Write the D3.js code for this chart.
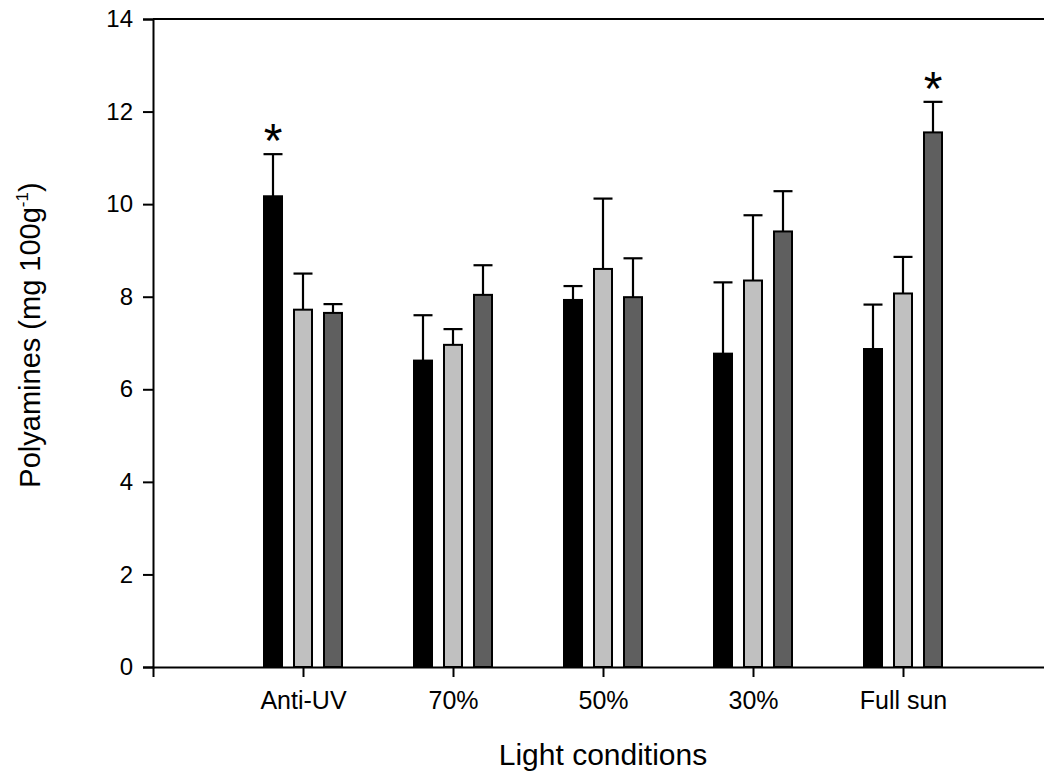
<!DOCTYPE html>
<html>
<head>
<meta charset="utf-8">
<script src="https://cdn.jsdelivr.net/npm/d3@7"></script>
<style>
  html, body { margin: 0; padding: 0; background: #fff; }
  svg { display: block; }
  text { font-family: "Liberation Sans", Arial, sans-serif; fill: #000; }
</style>
</head>
<body>
<svg id="chart" width="1044" height="773"></svg>
<script>
// Light treatments along the x axis
const categories = ["Anti-UV", "70%", "50%", "30%", "Full sun"];
// Three measured series per treatment (black, light grey, dark grey bars)
const seriesNames = ["s1", "s2", "s3"];
const meanS1 = [10.17, 6.62, 7.93, 6.77, 6.87];
const meanS2 = [7.72, 6.96, 8.60, 8.35, 8.07];
const meanS3 = [7.65, 8.04, 7.99, 9.41, 11.55];
// Upper end of each error bar
const errS1 = [11.08, 7.60, 8.23, 8.31, 7.83];
const errS2 = [8.50, 7.30, 10.12, 9.76, 8.86];
const errS3 = [7.84, 8.68, 8.83, 10.28, 12.21];
// Significance markers: [category, series]
const stars = [["Anti-UV", "s1"], ["Full sun", "s3"]];
const yTicks = [0, 2, 4, 6, 8, 10, 12, 14];

const fills = { s1: "#000000", s2: "#c0c0c0", s3: "#5f5f5f" };
const means = { s1: meanS1, s2: meanS2, s3: meanS3 };
const errs = { s1: errS1, s2: errS2, s3: errS3 };

const svg = d3.select("#chart");
const mLeft = 153, mRight = 1053, mTop = 19, mBottom = 667;

// Categories sit at positions 1..5 on a 0..6 axis
const x = d3.scaleLinear().domain([0, categories.length + 1]).range([mLeft, mRight]);
const xSub = d3.scaleBand().domain(seriesNames).range([-45, 45])
  .paddingInner(1 / 3).paddingOuter(1 / 6);
const y = d3.scaleLinear().domain([0, 14]).range([mBottom, mTop]);

const rows = [];
categories.forEach((c, i) => {
  seriesNames.forEach(s => {
    rows.push({ cat: c, idx: i + 1, s, v: means[s][i], e: errs[s][i] });
  });
});

// Error bars (drawn under the bars so the bar outline covers the stem base)
const eb = svg.append("g").attr("stroke", "#000").attr("stroke-width", 2.2).attr("fill", "none");
rows.forEach(d => {
  const cx = x(d.idx) + xSub(d.s) + xSub.bandwidth() / 2;
  eb.append("line").attr("x1", cx).attr("x2", cx).attr("y1", y(d.v)).attr("y2", y(d.e));
  eb.append("line").attr("x1", cx - 9.5).attr("x2", cx + 9.5).attr("y1", y(d.e)).attr("y2", y(d.e));
});

// Bars
svg.append("g").selectAll("rect").data(rows).join("rect")
  .attr("x", d => x(d.idx) + xSub(d.s) + 1)
  .attr("width", xSub.bandwidth() - 2)
  .attr("y", d => y(d.v))
  .attr("height", d => y(0) - y(d.v))
  .attr("fill", d => fills[d.s])
  .attr("stroke", "#000")
  .attr("stroke-width", 2);

// Significance asterisks above the error bars
svg.append("g").selectAll("text").data(stars).join("text")
  .attr("x", d => {
    const i = categories.indexOf(d[0]) + 1;
    return x(i) + xSub(d[1]) + xSub.bandwidth() / 2;
  })
  .attr("y", d => {
    const i = categories.indexOf(d[0]);
    return y(errs[d[1]][i]) + 3;
  })
  .attr("text-anchor", "middle")
  .attr("font-size", 48)
  .text("*");

// Left axis
const yAxis = d3.axisLeft(y).tickValues(yTicks).tickSize(10).tickPadding(10).tickFormat(d3.format("d"));
const gy = svg.append("g").attr("transform", `translate(${mLeft},0)`).call(yAxis);
gy.select(".domain").attr("stroke-width", 2);
gy.selectAll(".tick line").attr("stroke-width", 2);
gy.selectAll(".tick text").attr("font-size", 24).attr("font-family", "Liberation Sans, Arial, sans-serif");

// Bottom axis
const xAxis = d3.axisBottom(x).tickValues(d3.range(1, categories.length + 1))
  .tickSize(10).tickPadding(14).tickFormat(i => categories[i - 1]);
const gx = svg.append("g").attr("transform", `translate(0,${mBottom})`).call(xAxis);
gx.select(".domain").attr("stroke-width", 2);
gx.selectAll(".tick line").attr("stroke-width", 2);
gx.selectAll(".tick text").attr("font-size", 25).attr("font-family", "Liberation Sans, Arial, sans-serif");

// Top frame line
svg.append("line").attr("x1", mLeft).attr("x2", mRight).attr("y1", mTop).attr("y2", mTop)
  .attr("stroke", "#000").attr("stroke-width", 2);

// Axis titles
svg.append("text")
  .attr("x", (mLeft + mRight) / 2).attr("y", 765)
  .attr("text-anchor", "middle").attr("font-size", 30)
  .text("Light conditions");

const yt = svg.append("text")
  .attr("transform", `translate(40,${(mTop + mBottom) / 2 - 8}) rotate(-90)`)
  .attr("text-anchor", "middle").attr("font-size", 29);
yt.append("tspan").text("Polyamines (mg 100g");
yt.append("tspan").attr("font-size", 17).attr("dy", -12).text("-1");
yt.append("tspan").attr("dy", 12).text(")");
</script>
</body>
</html>
